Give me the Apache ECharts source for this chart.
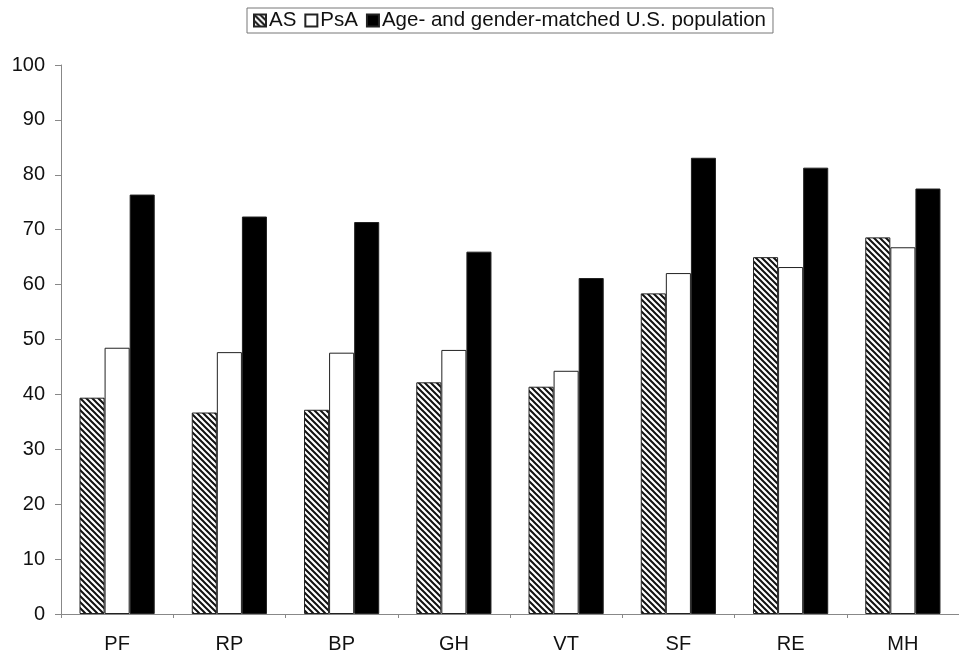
<!DOCTYPE html>
<html><head><meta charset="utf-8">
<script src="https://cdn.jsdelivr.net/npm/echarts@6/dist/echarts.min.js"></script>
<style>html,body{margin:0;padding:0;background:#fff}#c{width:959px;height:654px}</style>
</head><body><div id="c"></div>
<script>
const categories = ['PF','RP','BP','GH','VT','SF','RE','MH'];
const asValues  = [39.4, 36.7, 37.2, 42.2, 41.4, 58.4, 65.0, 68.6];
const psaValues = [48.5, 47.7, 47.6, 48.1, 44.3, 62.1, 63.2, 66.8];
const usValues  = [76.4, 72.4, 71.4, 66.0, 61.2, 83.1, 81.3, 77.5];
const seriesNames = ['AS','PsA','Age- and gender-matched U.S. population'];

function hatch(){
  const c = document.createElement('canvas');
  c.width = 6; c.height = 6;
  const g = c.getContext('2d');
  g.fillStyle = '#fff'; g.fillRect(0,0,6,6);
  g.strokeStyle = '#111'; g.lineWidth = 2;
  g.beginPath();
  g.moveTo(-1,-1); g.lineTo(7,7);
  g.moveTo(-1,5); g.lineTo(1,7);
  g.moveTo(5,-1); g.lineTo(7,1);
  g.stroke();
  return c;
}
const pat = {image: hatch(), repeat: 'repeat'};

const chart = echarts.init(document.getElementById('c'));
chart.setOption({
  animation: false,
  backgroundColor: '#fff',
  textStyle: {fontFamily: 'Liberation Sans, Arial, sans-serif'},
  legend: {
    left: 247, top: 8,
    data: seriesNames,
    icon: 'rect', itemWidth: 12, itemHeight: 12, itemGap: 8,
    borderColor: '#777', borderWidth: 1, padding: [2, 7, 2, 6],
    textStyle: {fontSize: 20.5, color: '#111', padding: [0,0,0,-2]}
  },
  grid: {left: 61, top: 65, width: 906, height: 551},
  xAxis: {
    type: 'category', data: categories,
    axisLine: {lineStyle: {color: '#888', width: 1}},
    axisTick: {show: true, length: 4, lineStyle: {color: '#888'}},
    axisLabel: {fontSize: 20, color: '#111', margin: 20}
  },
  yAxis: {
    type: 'value', min: 0, max: 100, interval: 10,
    axisLine: {show: true, lineStyle: {color: '#888'}},
    axisTick: {show: true, length: 6, lineStyle: {color: '#888'}},
    splitLine: {show: false},
    axisLabel: {fontSize: 20, color: '#111', margin: 16}
  },
  series: [
    {name: seriesNames[0], type: 'bar', data: asValues, barGap: '0%', barCategoryGap: '33%',
     itemStyle: {color: pat, borderColor: '#222', borderWidth: 1}},
    {name: seriesNames[1], type: 'bar', data: psaValues,
     itemStyle: {color: '#fff', borderColor: '#222', borderWidth: 1}},
    {name: seriesNames[2], type: 'bar', data: usValues,
     itemStyle: {color: '#000', borderColor: '#222', borderWidth: 1}}
  ]
});
</script></body></html>
